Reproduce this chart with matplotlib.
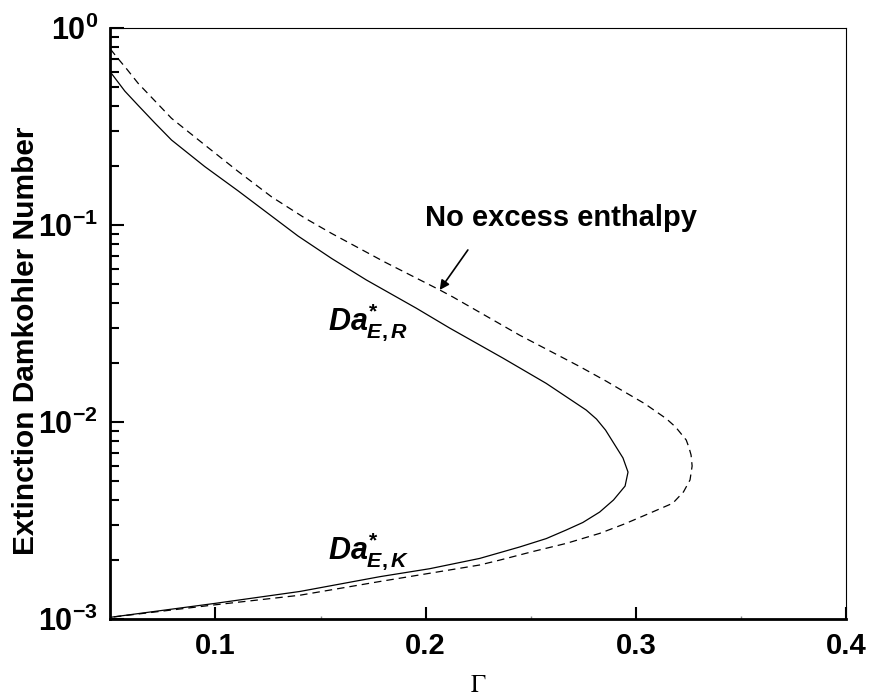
# Extinction Damkohler number vs Gamma
import numpy as np
import matplotlib
matplotlib.use("Agg")
import matplotlib.pyplot as plt
from matplotlib.ticker import FixedLocator, LogLocator, FuncFormatter, NullFormatter

# Data (C-shaped curves, upper branch -> turning point -> lower branch)
solid_x = [0.050, 0.0569, 0.0632, 0.0711, 0.0791, 0.0949, 0.1108, 0.1267, 0.1393, 0.1553,
           0.1718, 0.1956, 0.2114, 0.2368, 0.2574, 0.2764, 0.2813, 0.2856, 0.2939, 0.2963,
           0.2949, 0.2894, 0.2828, 0.2748, 0.2669, 0.2574, 0.2447, 0.2257, 0.2019, 0.1782,
           0.1402, 0.0997, 0.050]
solid_y = [0.598, 0.478, 0.405, 0.330, 0.270, 0.198, 0.149, 0.111, 0.0879, 0.0676,
           0.0526, 0.0378, 0.0300, 0.0211, 0.0157, 0.0115, 0.01035, 0.00910, 0.00657, 0.00557,
           0.00473, 0.00402, 0.00349, 0.00309, 0.00283, 0.00256, 0.00232, 0.00203, 0.00180, 0.00164,
           0.00138, 0.00120, 0.00102]

dashed_x = [0.050, 0.0529, 0.0578, 0.0632, 0.0791, 0.0949, 0.1108, 0.1267, 0.1425, 0.1552,
            0.1805, 0.2067, 0.2130, 0.2447, 0.2734, 0.2860, 0.2923, 0.3042, 0.3145, 0.3189,
            0.3240, 0.3253, 0.3263, 0.3268, 0.3258, 0.3227, 0.3176, 0.3065, 0.2947, 0.2828,
            0.2669, 0.2510, 0.2352, 0.2257, 0.1782, 0.1401, 0.0997, 0.050]
dashed_y = [0.782, 0.715, 0.619, 0.524, 0.348, 0.255, 0.187, 0.139, 0.1085, 0.0907,
            0.0649, 0.0468, 0.0431, 0.0276, 0.0191, 0.0161, 0.0147, 0.0124, 0.0104, 0.00944,
            0.00810, 0.00742, 0.00680, 0.00598, 0.00508, 0.00442, 0.00387, 0.00344, 0.00304, 0.00272,
            0.00242, 0.00220, 0.00199, 0.00188, 0.00155, 0.00132, 0.00118, 0.00102]

x_ticks = [0.1, 0.2, 0.3, 0.4]
x_tick_labels = ["0.1", "0.2", "0.3", "0.4"]

plt.rcParams['font.family'] = ['Liberation Sans', 'DejaVu Sans']
plt.rcParams['mathtext.fontset'] = 'custom'
plt.rcParams['mathtext.rm'] = 'Liberation Sans:bold'
plt.rcParams['mathtext.bf'] = 'Liberation Sans:bold'
plt.rcParams['mathtext.it'] = 'Liberation Sans:italic:bold'

fig = plt.figure(figsize=(8.69, 7.0), dpi=100)
ax = fig.add_axes([0.127, 0.1157, 0.8465, 0.8443])

ax.plot(solid_x, solid_y, color='black', lw=0.9)
ax.plot(dashed_x, dashed_y, color='black', lw=0.9, linestyle=(0, (6, 4)))

ax.set_yscale('log')
ax.set_xlim(0.05, 0.4)
ax.set_ylim(1e-3, 1.0)

# Axes frame: thick left/bottom, thin top/right
for s in ['left', 'bottom']:
    ax.spines[s].set_linewidth(2.0)
for s in ['top', 'right']:
    ax.spines[s].set_linewidth(0.8)

ax.xaxis.set_major_locator(FixedLocator(x_ticks))
ax.set_xticklabels(x_tick_labels)
ax.xaxis.set_minor_locator(FixedLocator([0.05, 0.15, 0.25, 0.35]))
ax.yaxis.set_major_locator(LogLocator(base=10, numticks=10))
ax.yaxis.set_minor_locator(LogLocator(base=10, subs=np.arange(2, 10), numticks=10))
ax.yaxis.set_major_formatter(FuncFormatter(lambda v, p: r'$\mathbf{10^{%d}}$' % int(round(np.log10(v)))))
ax.yaxis.set_minor_formatter(NullFormatter())

ax.tick_params(axis='x', which='major', direction='in', length=8.5, width=1.5, pad=9,
               labelsize=21, top=False)
ax.tick_params(axis='x', which='minor', direction='in', length=2, width=1, color='#888888', top=False)
ax.tick_params(axis='y', which='major', direction='in', length=10, width=1.5, pad=9,
               labelsize=22, right=False)
ax.tick_params(axis='y', which='minor', direction='in', length=6.5, width=1.5, right=False)
for lab in ax.get_xticklabels():
    lab.set_fontweight('bold')

ax.set_xlabel(r'$\Gamma$', fontsize=18, labelpad=10)
ax.xaxis.label.set_math_fontfamily('stix')
ax.set_ylabel('Extinction Damkohler Number', fontsize=21.5, fontweight='bold')
ax.yaxis.set_label_coords(-0.095, 0.47)

# Curve labels
ax.text(0.1534, 0.0293, r'$\mathit{Da^{*}_{E,R}}$', fontsize=22, va='baseline', ha='left')
ax.text(0.1534, 0.00200, r'$\mathit{Da^{*}_{E,K}}$', fontsize=22, va='baseline', ha='left')

ax.text(0.1996, 0.099, 'No excess enthalpy', fontsize=21, fontweight='bold',
        va='baseline', ha='left')
ax.annotate('', xy=(0.2067, 0.0468), xytext=(0.2201, 0.0747),
            arrowprops=dict(arrowstyle='-|>', color='black', lw=1.2, mutation_scale=14,
                            shrinkA=0, shrinkB=0))

fig.savefig('out.png', dpi=100)
